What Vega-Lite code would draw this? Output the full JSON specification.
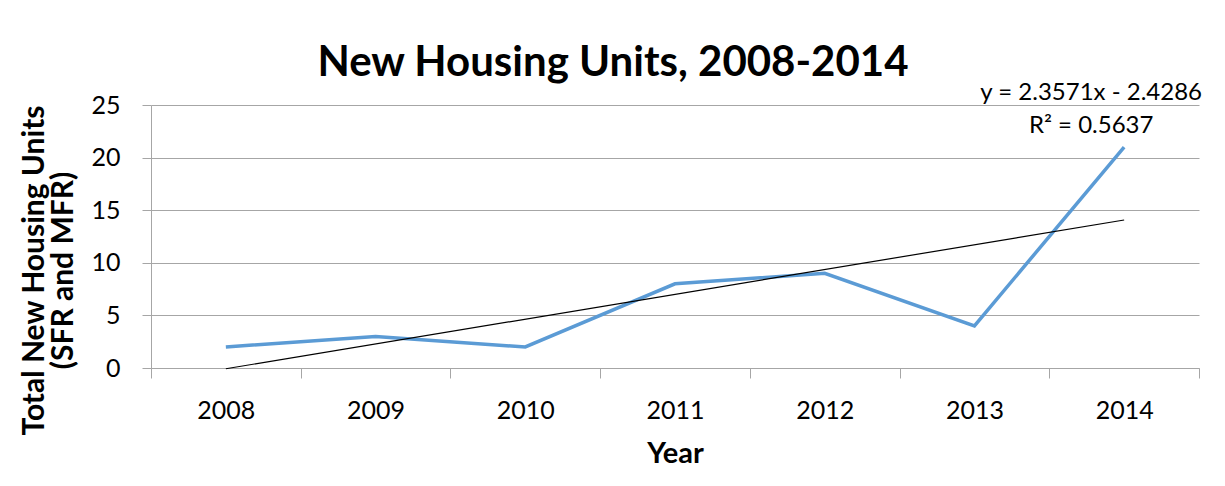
{
  "$schema": "https://vega.github.io/schema/vega-lite/v6.json",
  "width": 1048,
  "height": 263,
  "autosize": {"type": "none"},
  "padding": {"left": 151, "top": 105, "right": 26, "bottom": 118},
  "background": "white",
  "config": {"view": {"stroke": null}, "font": "Lato"},
  "title": {
    "text": "New Housing Units, 2008-2014",
    "fontSize": 42,
    "fontWeight": "bold",
    "font": "Lato",
    "color": "black",
    "anchor": "middle",
    "dx": -62,
    "offset": -4
  },
  "datasets": {
    "housing": [
      {"year": 2008, "units": 2},
      {"year": 2009, "units": 3},
      {"year": 2010, "units": 2},
      {"year": 2011, "units": 8},
      {"year": 2012, "units": 9},
      {"year": 2013, "units": 4},
      {"year": 2014, "units": 21}
    ]
  },
  "layer": [
    {
      "data": {"name": "housing"},
      "mark": {"type": "line", "color": "#5B9BD5", "strokeWidth": 3.5},
      "encoding": {
        "x": {
          "field": "year",
          "type": "ordinal",
          "bandPosition": 0.5,
          "scale": {"type": "band", "paddingInner": 0, "paddingOuter": 0},
          "axis": {
            "title": "Year",
            "titleFontSize": 29,
            "titleFontWeight": "bold",
            "titleColor": "black",
            "titleFont": "Lato",
            "labelFont": "Lato",
            "labelFontSize": 25,
            "labelColor": "black",
            "labelAngle": 0,
            "tickBand": "extent",
            "tickSize": 10,
            "tickColor": "#a6a6a6",
            "domainColor": "#a6a6a6",
            "labelPadding": 20,
            "titlePadding": 16,
            "grid": false
          }
        },
        "y": {
          "field": "units",
          "type": "quantitative",
          "scale": {"domain": [0, 25], "nice": false},
          "axis": {
            "values": [0, 5, 10, 15, 20, 25],
            "grid": true,
            "gridColor": "#a6a6a6",
            "tickColor": "#a6a6a6",
            "domainColor": "#a6a6a6",
            "tickSize": 9,
            "labelPadding": 22,
            "labelFont": "Lato",
            "labelFontSize": 25,
            "labelColor": "black",
            "title": ["Total New Housing Units", "(SFR and MFR)"],
            "titleFont": "Lato",
            "titleFontSize": 30,
            "titleFontWeight": "bold",
            "titleColor": "black",
            "titleLineHeight": 29,
            "titleY": 165,
            "titlePadding": 12
          }
        }
      }
    },
    {
      "data": {"name": "housing"},
      "transform": [{"regression": "units", "on": "year"}],
      "mark": {"type": "line", "color": "black", "strokeWidth": 1.2},
      "encoding": {
        "x": {"field": "year", "type": "ordinal", "bandPosition": 0.5},
        "y": {"field": "units", "type": "quantitative", "scale": {"domain": [0, 25], "nice": false}}
      }
    },
    {
      "data": {"values": [{"label": "y = 2.3571x - 2.4286\nR² = 0.5637"}]},
      "mark": {
        "type": "text",
        "font": "Lato",
        "fontSize": 24,
        "color": "black",
        "align": "center",
        "baseline": "middle",
        "lineBreak": "\n",
        "lineHeight": 33,
        "dx": -33
      },
      "encoding": {
        "x": {"datum": 2014, "type": "ordinal", "bandPosition": 0.5},
        "y": {"datum": 26.1, "type": "quantitative", "scale": {"domain": [0, 25], "nice": false}},
        "text": {"field": "label"}
      }
    }
  ]
}
